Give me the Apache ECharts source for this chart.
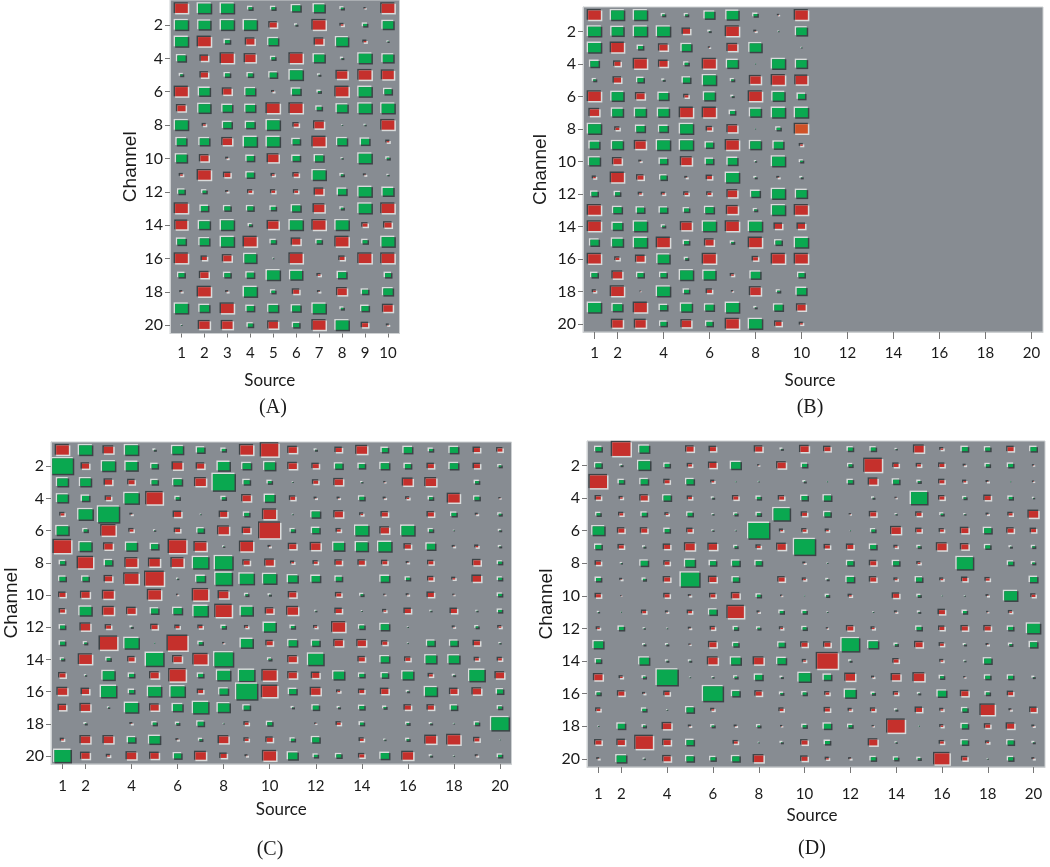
<!DOCTYPE html>
<html><head><meta charset="utf-8">
<style>html,body{margin:0;padding:0;background:#fff}#c{width:1050px;height:867px}</style>
<script src="https://cdn.jsdelivr.net/npm/echarts@6/dist/echarts.min.js"></script>
</head><body><div id="c"></div>
<script>
// Signed weights: positive = green, negative = red. Rows are channels 1..20, columns are sources.
const panelA = [
[-14,14,14,6,6,10,12,5,-3,-14],
[14,13,14,14,-9,4,-14,-5,6,12],
[14,-14,7,-10,11,0,-10,13,-5,3],
[10,-9,-14,-12,6,-14,12,4,14,12],
[5,-9,7,7,9,14,4,-12,-14,-13],
[-14,12,-10,11,-4,10,5,-14,14,9],
[-10,13,11,11,-14,-14,7,12,14,14],
[14,-5,10,10,14,-7,-11,2,3,-14],
[11,11,-11,14,14,9,-14,11,10,-5],
[12,-10,-4,9,-12,9,10,3,14,5],
[-5,-14,-8,9,-5,-7,14,5,-4,3],
[8,6,-4,-6,-6,-6,-10,10,14,12],
[-14,9,8,8,7,10,-12,5,14,-14],
[-13,12,14,5,-12,14,-14,14,-7,-9],
[10,11,14,-14,7,-10,7,-14,7,14],
[-14,-7,-10,13,2,-14,0,-7,-14,-14],
[8,-10,8,9,14,13,-5,10,0,8],
[-4,-14,-4,14,6,-8,-4,-11,8,11],
[14,11,-14,9,11,10,14,5,9,-11],
[2,-12,-12,7,-11,8,-14,14,-8,-4]];
const panelB = [
[-14,14,14,5,5,11,13,6,-3,-14],
[14,13,14,14,-9,4,-14,-4,2,12],
[14,-14,7,-10,11,-3,-11,13,0,2],
[10,-8,-14,-10,6,-14,12,1,14,12],
[5,-9,8,4,9,14,5,-12,-14,-13],
[-14,13,-10,11,-6,12,4,-14,13,9],
[-11,12,12,12,-14,-14,7,12,14,14],
[14,-6,10,10,14,-7,-11,1,6,-14],
[11,12,-12,14,14,9,-14,12,11,-5],
[12,-10,-4,9,-12,9,11,3,14,5],
[-5,-14,-8,8,-4,-7,14,4,-4,4],
[8,7,-5,-5,-6,-6,-11,10,14,12],
[-14,10,9,9,7,10,-12,5,14,-14],
[-14,11,14,5,-12,14,-14,14,-9,-9],
[10,12,14,-14,7,-10,5,-14,8,14],
[-14,-6,-10,13,5,-14,0,-7,-14,-14],
[8,-11,8,8,14,13,-5,11,0,8],
[-5,-14,-2,14,7,-7,-3,-12,5,11],
[14,11,-14,9,12,10,14,4,10,-10],
[0,-12,-12,8,-11,8,-14,14,-8,-5]];
const panelC = [
[-14,14,-11,14,4,12,9,6,-14,-18,-10,4,-8,-12,8,10,6,10,-8,-7],
[21,-9,14,13,8,-11,-9,13,10,12,-10,-8,9,8,10,8,-8,10,-8,5],
[12,12,-9,-8,8,10,-12,22,8,6,2,-7,-10,3,-3,-11,-12,0,6,0],
[12,9,-7,15,-17,6,0,6,-10,11,-7,-4,-4,7,-4,-5,6,-13,7,-3],
[-6,15,21,-4,0,-9,2,-9,7,-14,2,10,-10,-5,-8,0,-8,7,-4,5],
[13,6,-15,-6,3,-7,8,-12,-9,-21,6,9,-6,14,-10,14,6,2,0,4],
[-18,13,-10,12,9,-18,-13,3,-14,-4,-9,-11,12,13,14,-8,10,-4,-5,4],
[7,-16,9,-13,-12,-13,16,18,-8,-10,-5,-6,-8,-8,-7,-4,-7,0,-9,6],
[8,8,-9,-15,-19,3,10,17,15,14,11,10,8,0,10,6,-7,-5,-10,6],
[-8,-10,-12,0,-14,-3,-16,-11,5,4,-9,0,-7,5,-3,-4,-8,-3,0,6],
[-7,13,-12,-10,9,10,15,-17,13,-9,-12,3,-8,2,-5,-8,3,-8,3,6],
[7,-11,-7,4,-8,-6,-6,6,-5,13,6,-5,-14,7,10,2,0,-4,5,-5],
[7,5,-18,15,1,-20,6,-3,13,-8,10,9,-10,-10,-7,2,9,9,-8,3],
[5,-14,6,-8,18,-10,-15,19,0,5,-10,16,0,-8,10,-7,12,12,-6,-6],
[-8,3,13,7,-10,-17,7,14,16,-15,-10,-9,12,7,8,12,-6,4,16,-10],
[-11,-9,16,7,14,15,-7,10,21,-16,9,-11,-5,-7,-9,4,13,-9,-10,8],
[-9,-11,3,14,-10,11,16,13,8,0,4,8,4,7,5,-8,-8,8,0,6],
[0,4,0,-4,6,5,8,2,-6,7,0,-3,-6,6,0,5,4,2,6,18],
[-5,-11,-11,9,12,-4,5,-11,-6,-8,6,9,0,-6,3,5,-12,-14,-7,1],
[17,-10,-5,-11,-10,9,-12,-8,-4,-14,11,6,7,-7,10,-12,4,2,-4,6]];
const panelD = [
[8,-19,11,0,-9,-8,0,-9,4,-10,-8,7,7,3,-11,-5,8,7,-8,8],
[8,4,13,7,-6,-9,11,-3,-10,7,0,6,-18,-7,-6,-7,-4,6,7,-3],
[-18,7,9,-7,9,-5,1,2,0,4,1,7,-10,8,5,-7,-5,-4,1,-3],
[-7,-5,-9,9,-6,4,-7,6,-7,8,9,0,4,-3,17,-7,5,-8,6,3],
[6,-6,7,-5,7,3,5,6,17,-7,8,-3,-8,3,-7,5,3,-4,-6,-11],
[13,-8,-8,7,-7,3,2,21,-5,-6,-5,1,6,-11,-7,-6,-9,9,-8,-7],
[8,-7,4,-8,-11,-10,5,-6,-10,21,-7,-8,8,-5,5,-11,-9,7,4,5],
[-7,3,9,-7,11,8,9,8,0,-4,2,8,-8,8,-5,0,17,0,7,5],
[7,-4,5,-8,19,-9,8,0,-8,-5,4,9,-8,-5,8,-5,-7,-6,0,9],
[-7,-2,0,-7,-4,-7,-9,6,-3,1,5,-5,0,-8,5,1,2,-4,14,-6],
[3,1,-6,-4,-6,9,-17,-4,6,6,2,0,2,-4,4,-8,6,-3,-5,0],
[-5,7,3,2,-4,-6,6,5,-5,6,-3,-8,-5,0,7,-7,-8,-8,7,14],
[11,0,4,4,-3,-9,7,0,8,-8,-8,18,11,5,-9,-6,4,-4,5,9],
[7,0,11,4,4,-11,11,-11,10,-5,-21,4,0,-7,0,-5,3,9,0,0],
[-10,-5,5,21,2,3,5,9,4,13,9,-11,-4,-10,-12,6,-3,7,7,4],
[6,-8,-4,-7,0,20,9,-8,5,6,-6,12,5,-6,4,10,-9,6,-7,0],
[-6,0,6,2,9,-5,0,0,-6,0,-7,-5,-6,4,-8,-5,7,-15,-4,-8],
[2,9,5,-10,-4,5,-4,5,-3,6,9,6,-3,-18,1,-5,8,-7,-9,-4],
[-8,-9,-18,-9,9,0,-6,2,4,-8,7,0,-10,3,0,-6,8,-5,8,4],
[-4,11,3,-9,9,7,9,-11,0,-8,-5,-4,7,6,5,-16,-7,2,7,-4]];

const channels = [1,2,3,4,5,6,7,8,9,10,11,12,13,14,15,16,17,18,19,20].map(String);
const channelTicks = ['2','4','6','8','10','12','14','16','18','20'];
const sources10 = ['1','2','3','4','5','6','7','8','9','10'];
const sources20 = channels;
const sourceTicksA = sources10;
const sourceTicksWide = ['1','2','4','6','8','10','12','14','16','18','20'];
const captions = ['(A)','(B)','(C)','(D)'];

const FRAME='#878C92', GREEN='#0AA850', RED='#C5302C', ORANGE='#CF5228', LIGHT='#D9DCDC', DARK='#3C4346';
const SCALE=1.12, ASPECT=0.78, BEVEL=1.5;

function hinton(params, api){
  const v=api.value(2); if(!v) return;
  const p=api.coord([api.value(0),api.value(1)]);
  const w=Math.abs(v)*SCALE, h=Math.max(w*ASPECT,1.5);
  const x=p[0]-w/2, y=p[1]-h/2, g=v>0;
  const b=Math.min(BEVEL,w/3);
  const fill = api.value(3)? ORANGE : (g?GREEN:RED);
  return {type:'group',silent:true,children:[
    {type:'rect',shape:{x:x,y:y,width:w-b,height:h-b},style:{fill:g?LIGHT:DARK}},
    {type:'rect',shape:{x:x+b,y:y+b,width:w-b,height:h-b},style:{fill:g?DARK:LIGHT}},
    {type:'rect',shape:{x:x+b,y:y+b,width:Math.max(w-2*b,0.5),height:Math.max(h-2*b,0.5)},style:{fill:fill}}
  ]};
}

const panels=[
 {m:panelA,src:sources10,ticks:sourceTicksA,grid:{left:170,top:0,width:229.5,height:333.5},xGap:39,yGap:23,pad:[0,30,0,0],cap:[273,408],hl:null,margin:12,tick:4},
 {m:panelB,src:sources20,ticks:sourceTicksWide,grid:{left:583,top:7,width:460,height:325},xGap:40,yGap:33,pad:[0,6,0,0],cap:[810,408],hl:[7,9],margin:14,tick:7},
 {m:panelC,src:sources20,ticks:sourceTicksWide,grid:{left:51,top:442,width:460.5,height:322},xGap:37,yGap:28,pad:[0,0,0,0],cap:[270,850],hl:null,margin:15,tick:5},
 {m:panelD,src:sources20,ticks:sourceTicksWide,grid:{left:587,top:441,width:458,height:326},xGap:40,yGap:31,pad:[0,8,0,0],cap:[812,849],hl:null,margin:20,tick:6}
];
const labelFont='Lato,"Liberation Sans",sans-serif';
const opt={animation:false,backgroundColor:'#fff',grid:[],xAxis:[],yAxis:[],series:[],
  graphic:captions.map((c,i)=>({type:'text',x:panels[i].cap[0],y:panels[i].cap[1],silent:true,
    style:{text:c,fill:'#1a1a1a',font:'20px "Liberation Serif",serif',textAlign:'center',textVerticalAlign:'middle'}}))};
panels.forEach((p,i)=>{
  opt.grid.push(Object.assign({show:true,backgroundColor:FRAME,borderColor:'#CDD0D2',borderWidth:1},p.grid));
  const inX=(idx,val)=>p.ticks.includes(val);
  const inY=(idx,val)=>channelTicks.includes(val);
  opt.xAxis.push({type:'category',gridIndex:i,data:p.src,name:'Source',nameLocation:'middle',nameGap:p.xGap,
    nameTextStyle:{fontFamily:labelFont,fontSize:17,color:'#1a1a1a',padding:p.pad},
    axisLine:{show:true,lineStyle:{color:'#CDD0D2'}},
    axisTick:{show:true,alignWithLabel:true,interval:inX,length:p.tick,lineStyle:{color:'#777'}},
    axisLabel:{show:true,interval:inX,margin:p.margin,fontFamily:labelFont,fontSize:15,color:'#1a1a1a'},splitLine:{show:false}});
  opt.yAxis.push({type:'category',gridIndex:i,inverse:true,data:channels,name:'Channel',nameLocation:'middle',nameGap:p.yGap,nameRotate:90,
    nameTextStyle:{fontFamily:'"Liberation Sans",sans-serif',fontSize:19,color:'#1a1a1a'},
    axisLine:{show:true,lineStyle:{color:'#CDD0D2'}},
    axisTick:{show:true,alignWithLabel:true,interval:inY,length:5,lineStyle:{color:'#777'}},
    axisLabel:{show:true,interval:inY,margin:7,padding:[8,0,0,0],fontFamily:labelFont,fontSize:16,color:'#1a1a1a'},splitLine:{show:false}});
  const data=[];
  p.m.forEach((row,r)=>row.forEach((v,c)=>{data.push([c,r,v,(p.hl&&p.hl[0]===r&&p.hl[1]===c)?1:0]);}));
  opt.series.push({type:'custom',coordinateSystem:'cartesian2d',xAxisIndex:i,yAxisIndex:i,clip:false,
    encode:{x:0,y:1},renderItem:hinton,data:data,silent:true});
});
const chart=echarts.init(document.getElementById('c'),null,{renderer:'canvas'});
chart.setOption(opt);
</script></body></html>
